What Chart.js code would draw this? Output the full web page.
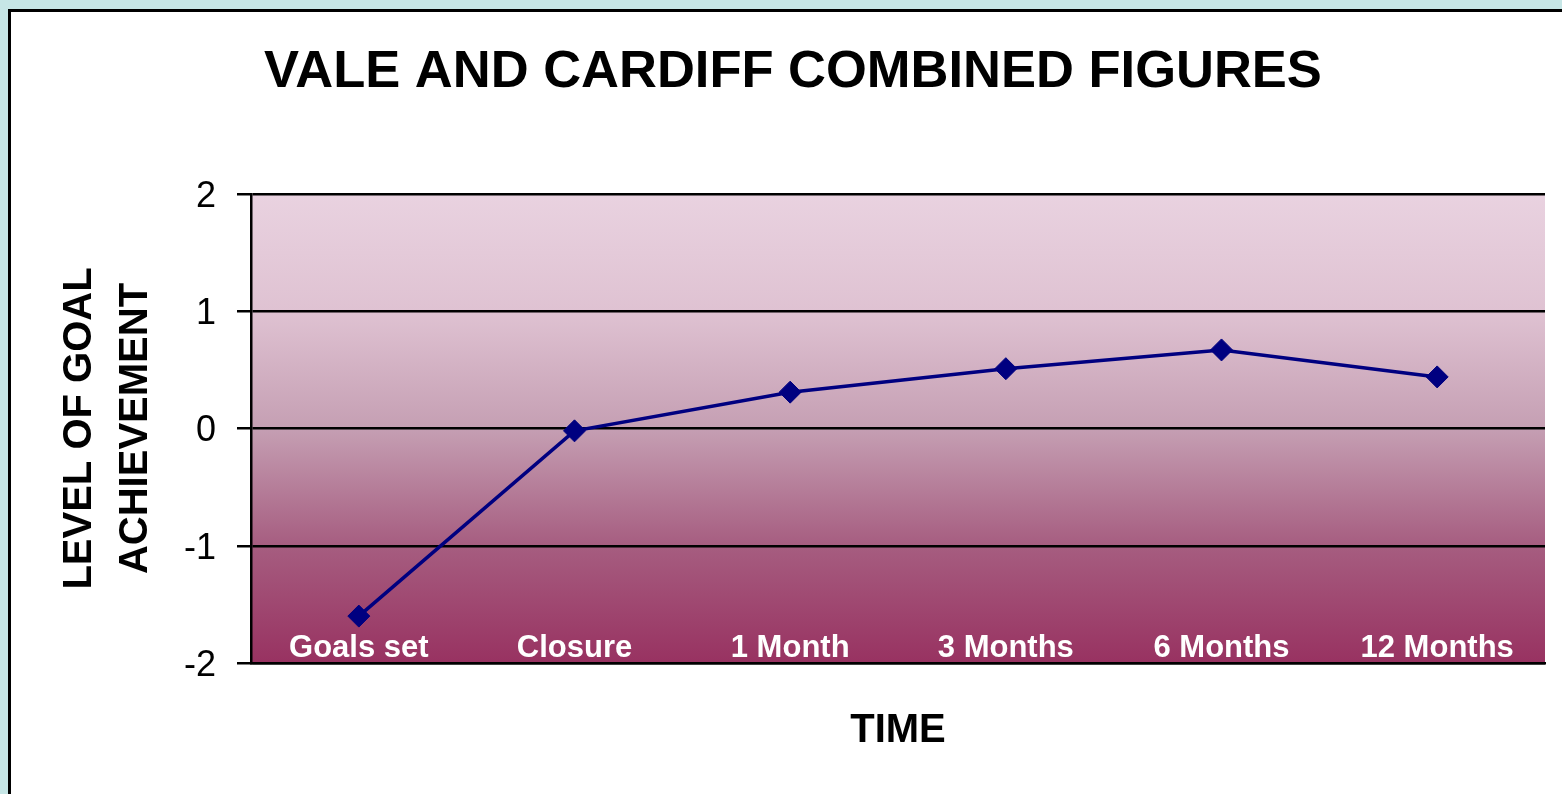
<!DOCTYPE html>
<html>
<head>
<meta charset="utf-8">
<script src="https://cdn.jsdelivr.net/npm/chart.js@4"></script>
<style>
  body { margin: 0; background: #c6e6e6; width: 1562px; height: 794px; overflow: hidden; position: relative; }
  #frame { position: absolute; left: 8px; top: 9px; width: 1600px; height: 850px; background: #fff; border: 3px solid #000; }
  #wrap { position: absolute; left: 0; top: 0; width: 1562px; height: 794px; }
</style>
</head>
<body>
<div id="frame"></div>
<div id="wrap"><canvas id="chart"></canvas></div>
<script>
const categories = ["Goals set", "Closure", "1 Month", "3 Months", "6 Months", "12 Months"];
const goalLevels = [-1.6, -0.02, 0.31, 0.51, 0.67, 0.44];
const yTicks = [-2, -1, 0, 1, 2];

const FONT = "'Liberation Sans', Arial, sans-serif";

// pink-to-plum fill behind the plot, like the Excel plot area
const plotFill = {
    id: 'plotFill',
    beforeDraw(chart) {
        const {ctx, chartArea: a} = chart;
        const g = ctx.createLinearGradient(0, a.top, 0, a.bottom);
        g.addColorStop(0, '#e9d2e0');
        g.addColorStop(0.25, '#dfc2d2');
        g.addColorStop(0.5, '#c59fb3');
        g.addColorStop(0.75, '#a65d80');
        g.addColorStop(1, '#983261');
        ctx.save();
        ctx.fillStyle = g;
        ctx.fillRect(a.left, a.top, a.right - a.left, a.bottom - a.top);
        ctx.restore();
    }
};

// category names sit inside the plot, just above the bottom axis
const innerLabels = {
    id: 'innerLabels',
    afterDatasetsDraw(chart) {
        const {ctx, chartArea: a, scales: {x}} = chart;
        ctx.save();
        ctx.fillStyle = '#fff';
        ctx.font = 'bold 31px ' + FONT;
        ctx.textAlign = 'center';
        ctx.textBaseline = 'alphabetic';
        chart.data.labels.forEach((lab, i) => {
            ctx.fillText(lab, x.getPixelForValue(i), a.bottom - 6);
        });
        ctx.restore();
    }
};

const ctx = document.querySelector('#chart').getContext('2d');
const chart = new Chart(ctx, {
    type: 'line',
    data: {
        labels: categories,
        datasets: [{
            label: 'Level of goal achievement',
            data: goalLevels,
            borderColor: '#000080',
            borderWidth: 3.5,
            backgroundColor: '#000080',
            pointStyle: 'rectRot',
            pointRadius: 11,
            pointBorderWidth: 1,
            pointBackgroundColor: '#000080',
            pointBorderColor: '#000080',
            tension: 0
        }]
    },
    options: {
        responsive: true,
        maintainAspectRatio: false,
        animation: false,
        layout: {
            padding: {left: 41, right: 17, top: 0, bottom: 39}
        },
        scales: {
            x: {
                offset: true,
                ticks: {display: false},
                grid: {display: false, drawTicks: false},
                border: {display: true, color: '#000', width: 2.5},
                title: {
                    display: true,
                    text: 'TIME',
                    color: '#000',
                    font: {family: FONT, size: 40, weight: 'bold', lineHeight: 1.2},
                    padding: {top: 44, bottom: 0}
                },
                afterFit(s) { s.height = 92; }
            },
            y: {
                min: -2,
                max: 2,
                afterBuildTicks(s) { s.ticks = yTicks.map(v => ({value: v})); },
                ticks: {
                    color: '#000',
                    padding: 21,
                    labelOffset: 3,
                    font: {family: FONT, size: 36}
                },
                grid: {color: '#000', lineWidth: 2.5, tickLength: 14},
                border: {display: true, color: '#000', width: 2.5},
                title: {
                    display: true,
                    text: ['LEVEL OF GOAL', 'ACHIEVEMENT'],
                    color: '#000',
                    font: {family: FONT, size: 40, weight: 'bold', lineHeight: 1.4},
                    padding: {top: 11, bottom: 0}
                },
                afterFit(s) { s.width = 210; }
            }
        },
        plugins: {
            legend: {display: false},
            tooltip: {enabled: false},
            title: {
                display: true,
                text: 'VALE AND CARDIFF COMBINED FIGURES',
                color: '#000',
                font: {family: FONT, size: 52.5, weight: 'bold', lineHeight: 1.2},
                padding: {top: 41, bottom: 90}
            }
        }
    },
    plugins: [plotFill, innerLabels]
});
</script>
</body>
</html>
